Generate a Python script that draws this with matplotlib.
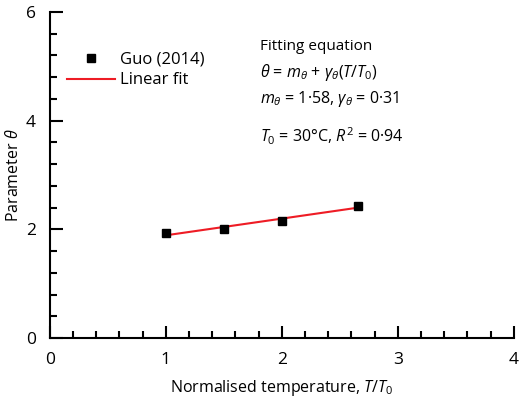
import matplotlib
matplotlib.use('Agg')
import matplotlib.pyplot as plt
from matplotlib.ticker import MultipleLocator

# Datos
x_guo = [1.0, 1.5, 2.0, 2.66]
y_guo = [1.93, 2.00, 2.15, 2.43]
# recta de ajuste (extremos)
x_fit = [1.0, 2.66]
y_fit = [1.89, 2.40]

eq_lines = ['Fitting equation',
            r'$\theta$ = $m_\theta$ + $\gamma_\theta$($T/T_0$)',
            r'$m_\theta$ = 1·58, $\gamma_\theta$ = 0·31',
            r'$T_0$ = 30°C, $R^2$ = 0·94']
eq_sizes = [11, 11.5, 11.5, 11.5]

plt.rcParams['font.family'] = ['Open Sans', 'DejaVu Sans']
plt.rcParams['mathtext.fontset'] = 'custom'
plt.rcParams['mathtext.rm'] = 'Open Sans'
plt.rcParams['mathtext.it'] = 'Open Sans:italic'
plt.rcParams['mathtext.bf'] = 'Open Sans:bold'

fig = plt.figure(figsize=(5.2, 4), dpi=100)
ax = fig.add_axes([0.096, 0.155, 0.892, 0.815])

ax.plot(x_guo, y_guo, 's', color='black', markersize=6, label='Guo (2014)', zorder=3)
ax.plot(x_fit, y_fit, '-', color='#ee1c25', lw=1.5, label='Linear fit', zorder=2)

ax.set_xlim(0, 4)
ax.set_ylim(0, 6)
ax.spines['top'].set_visible(False)
ax.spines['right'].set_visible(False)
ax.spines['left'].set_linewidth(1.5)
ax.spines['bottom'].set_linewidth(1.5)
ax.xaxis.set_major_locator(MultipleLocator(1))
ax.xaxis.set_minor_locator(MultipleLocator(0.2))
ax.yaxis.set_major_locator(MultipleLocator(2))
ax.yaxis.set_minor_locator(MultipleLocator(0.4))
ax.tick_params(which='major', direction='in', length=9, width=1.5, labelsize=12.5, pad=10)
ax.tick_params(which='minor', direction='in', length=5, width=1.5)

ax.set_xlabel(r'Normalised temperature, $T/T_0$', fontsize=11.5, labelpad=7)
ax.set_ylabel(r'Parameter $\theta$', fontsize=11.5, labelpad=3)

ax.legend(loc='upper left', bbox_to_anchor=(0.012, 0.915), frameon=False, fontsize=12,
          handlelength=2.9, handletextpad=0.3, borderaxespad=0.3, labelspacing=0.3)

ypos = [0.893, 0.815, 0.734, 0.62]
for t, s, yy in zip(eq_lines, eq_sizes, ypos):
    ax.text(0.453, yy, t, transform=ax.transAxes, fontsize=s, va='center', ha='left')

fig.savefig('out.png', dpi=100)
